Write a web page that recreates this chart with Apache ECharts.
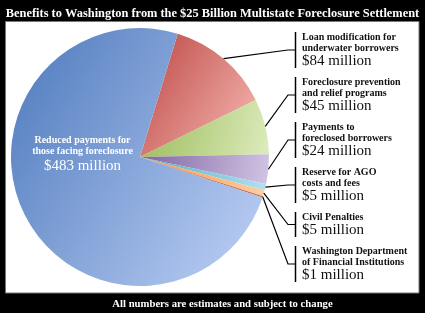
<!DOCTYPE html>
<html>
<head>
<meta charset="utf-8">
<script src="https://cdn.jsdelivr.net/npm/echarts@6/dist/echarts.min.js"></script>
<style>
  html, body { margin: 0; padding: 0; background: #000; }
  #chart { width: 425px; height: 313px; }
</style>
</head>
<body>
<div id="chart"></div>
<script>
// data (millions of dollars)
var categories = [
    'Loan modification for\nunderwater borrowers',
    'Foreclosure prevention\nand relief programs',
    'Payments to\nforeclosed borrowers',
    'Reserve for AGO\ncosts and fees',
    'Civil Penalties',
    'Washington Department\nof Financial Institutions',
    'Reduced payments for\nthose facing foreclosure'
];
var values = [84, 45, 24, 5, 5, 1, 483];

// slice colours: dark side, light side
var sliceColors = [
    ['#c0504d', '#f4b2ac'],
    ['#9bbb59', '#dcebbb'],
    ['#8064a2', '#d0c4e3'],
    ['#4bacc6', '#b2e1ef'],
    ['#f79646', '#fccda6'],
    ['#a9472f', '#c4684e'],
    ['#5680c1', '#b7cbf2']
];

var serif = 'Liberation Serif';
var DESC_LH = 11, VAL_LH = 14, GAP = 9;
var CX = 140, CY = 157, R = 129, START = 73;
var BAR_X = 295;

// stack the right-hand labels from the top of the panel
var tops = [];
var heights = [];
var y = 32;
for (var i = 0; i < 6; i++) {
    var h = categories[i].split('\n').length * DESC_LH + VAL_LH;
    tops.push(y);
    heights.push(h);
    y += h + GAP;
}

// middle of each slice's arc, so the leader lines start there
var total = values.reduce(function(a, b) { return a + b; }, 0);
var midPoints = [];
var acc = 0;
values.forEach(function(v) {
    var a = (START - (acc + v / 2) / total * 360) * Math.PI / 180;
    midPoints.push([CX + R * Math.cos(a), CY - R * Math.sin(a)]);
    acc += v;
});

window.onload = function() {
    var chart = echarts.init(document.getElementById('chart'));

    var pieData = values.map(function(v, i) {
        var item = {
            name: categories[i],
            value: v,
            itemStyle: {
                color: {
                    type: 'linear', x: 0, y: 0.2, x2: 1, y2: 0.8,
                    colorStops: [
                        { offset: 0, color: sliceColors[i][0] },
                        { offset: 1, color: sliceColors[i][1] }
                    ]
                }
            }
        };
        if (i === 6) {
            item.label = {
                color: '#fff',
                rich: {
                    d: { fontFamily: serif, fontWeight: 'bold', fontSize: 10, lineHeight: DESC_LH + 0.5, color: '#fff', align: 'center' },
                    v: { fontFamily: serif, fontSize: 15, lineHeight: 18, color: '#fff', align: 'center' }
                }
            };
        }
        return item;
    });

    // bracket bars and leader lines for the right-hand labels
    var guides = [];
    tops.forEach(function(t, i) {
        var my = tops[i] + heights[i] / 2;
        guides.push({
            type: 'line',
            shape: { x1: BAR_X + 0.5, y1: t, x2: BAR_X + 0.5, y2: t + heights[i] },
            style: { stroke: '#000', lineWidth: 1.5 },
            z: 10
        });
        guides.push({
            type: 'polyline',
            shape: { points: [midPoints[i], [BAR_X - 7, my], [BAR_X, my]] },
            style: { stroke: '#000', lineWidth: 1.2, fill: null },
            z: 10
        });
    });

    var option = {
        backgroundColor: '#000',
        animation: false,
        title: {
            text: 'Benefits to Washington from the $25 Billion Multistate Foreclosure Settlement',
            left: 'center',
            top: 3,
            textStyle: { color: '#fff', fontFamily: serif, fontWeight: 'bold', fontSize: 12.4 }
        },
        graphic: [{
            type: 'rect',
            shape: { x: 5.5, y: 21.5, width: 413.5, height: 271.5 },
            style: { fill: '#fff', stroke: '#777', lineWidth: 1 },
            z: 0
        }, {
            type: 'text',
            x: 222.5,
            y: 304,
            style: {
                text: 'All numbers are estimates and subject to change',
                fill: '#fff',
                font: 'bold 10.7px "Liberation Serif"',
                align: 'center',
                verticalAlign: 'middle'
            }
        }].concat(guides),
        series: [{
            type: 'pie',
            center: [CX, CY],
            radius: R,
            startAngle: START,
            clockwise: true,
            avoidLabelOverlap: false,
            data: pieData,
            label: {
                position: 'outside',
                padding: [0, 0, 0, 7],
                formatter: function(p) {
                    return '{d|' + p.name + '}\n{v|$' + p.value + ' million}';
                },
                rich: {
                    d: { fontFamily: serif, fontWeight: 'bold', fontSize: 10, lineHeight: DESC_LH, color: '#111' },
                    v: { fontFamily: serif, fontSize: 15, lineHeight: VAL_LH, color: '#111' }
                }
            },
            labelLine: { show: false },
            labelLayout: function(p) {
                var i = p.dataIndex;
                if (i === 6) {
                    return { x: 79, y: 155, align: 'center', verticalAlign: 'middle' };
                }
                return { x: BAR_X, y: tops[i], align: 'left', verticalAlign: 'top' };
            }
        }]
    };

    chart.setOption(option);
};
</script>
</body>
</html>
